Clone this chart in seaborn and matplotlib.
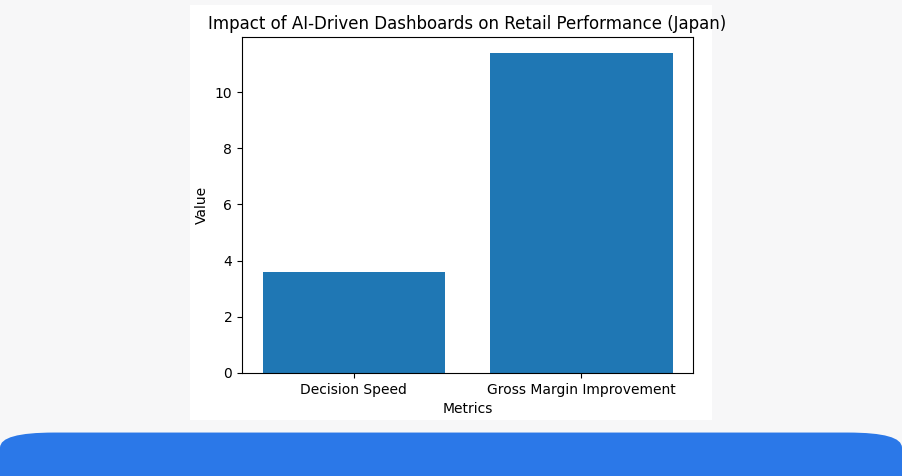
import matplotlib
matplotlib.use("Agg")
import matplotlib.pyplot as plt
from matplotlib.patches import Rectangle, FancyBboxPatch
import seaborn as sns
import pandas as pd

# ── Data ──
metrics = ["Decision Speed", "Gross Margin Improvement"]
values = [3.6, 11.4]

df = pd.DataFrame({"Metrics": metrics, "Value": values})

fig = plt.figure(figsize=(9.02, 4.76), dpi=100)
fig.patch.set_facecolor("#f7f7f8")

# white card behind the chart
fig.patches.append(Rectangle((190 / 902, 1 - 420 / 476), 522 / 902, 415 / 476,
                             transform=fig.transFigure, facecolor="white",
                             edgecolor="none", zorder=-2))
# blue footer band
fig.patches.append(FancyBboxPatch((0, -0.05), 1.0, 0.1413,
                                  boxstyle="round,pad=0,rounding_size=0.06",
                                  transform=fig.transFigure, facecolor="#2b78e8",
                                  edgecolor="none", zorder=-2, mutation_aspect=476 / 902))

ax = fig.add_axes([242 / 902, 103 / 476, 451 / 902, 336 / 476])
ax.set_zorder(1)
sns.barplot(data=df, x="Metrics", y="Value", color="#1f77b4", saturation=1,
            width=0.8, ax=ax)
ax.set_xlim(-0.49, 1.49)
ax.set_ylim(0, 11.96)
ax.set_yticks([0, 2, 4, 6, 8, 10])
ax.set_title("Impact of AI-Driven Dashboards on Retail Performance (Japan)", fontsize=12)
ax.set_xlabel("Metrics", fontsize=10)
ax.set_ylabel("Value", fontsize=10)

fig.savefig("out.png", dpi=100)
